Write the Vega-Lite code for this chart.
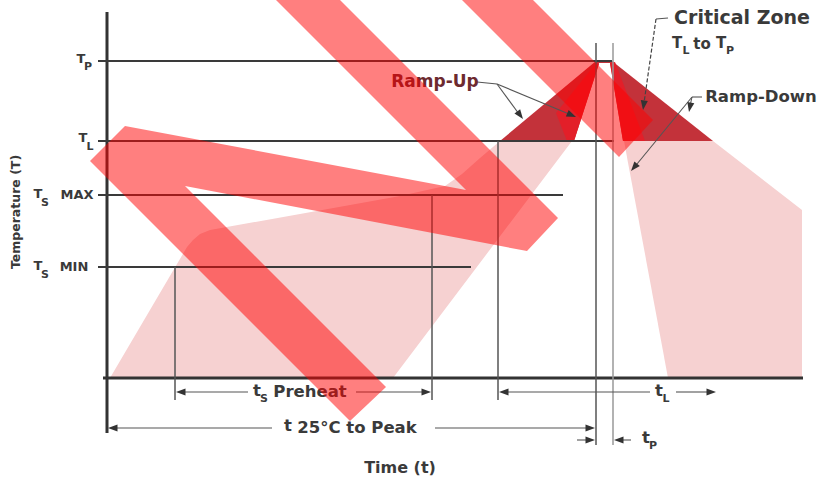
{
  "$schema": "https://vega.github.io/schema/vega-lite/v6.json",
  "width": 819,
  "height": 480,
  "autosize": {"type": "fit", "contains": "padding"},
  "padding": 0,
  "background": "white",
  "config": {"view": {"stroke": null}, "text": {"font": "DejaVu Sans", "fontWeight": "bold"}},
  "datasets": {
    "polys": [
      {"part": "pinkL", "i": 0, "t": 3, "T": 0},
      {"part": "pinkL", "i": 1, "t": 80, "T": 131},
      {"part": "pinkL", "i": 2, "t": 86, "T": 138},
      {"part": "pinkL", "i": 3, "t": 93, "T": 144},
      {"part": "pinkL", "i": 4, "t": 103, "T": 148},
      {"part": "pinkL", "i": 5, "t": 193, "T": 164},
      {"part": "pinkL", "i": 6, "t": 293, "T": 182},
      {"part": "pinkL", "i": 7, "t": 338, "T": 192},
      {"part": "pinkL", "i": 8, "t": 355, "T": 204},
      {"part": "pinkL", "i": 9, "t": 373, "T": 220},
      {"part": "pinkL", "i": 10, "t": 393, "T": 237},
      {"part": "pinkL", "i": 11, "t": 465, "T": 237},
      {"part": "pinkL", "i": 12, "t": 286, "T": 0},
      {"part": "pinkR", "i": 0, "t": 517, "T": 237},
      {"part": "pinkR", "i": 1, "t": 606, "T": 237},
      {"part": "pinkR", "i": 2, "t": 695, "T": 168},
      {"part": "pinkR", "i": 3, "t": 695, "T": 0},
      {"part": "pinkR", "i": 4, "t": 561, "T": 0},
      {"part": "trap", "i": 0, "t": 393, "T": 237},
      {"part": "trap", "i": 1, "t": 489, "T": 317},
      {"part": "trap", "i": 2, "t": 505, "T": 317},
      {"part": "trap", "i": 3, "t": 606, "T": 237},
      {"part": "gap", "i": 0, "t": 492, "T": 315},
      {"part": "gap", "i": 1, "t": 503, "T": 315},
      {"part": "gap", "i": 2, "t": 516, "T": 237},
      {"part": "gap", "i": 3, "t": 467, "T": 237},
      {"part": "wedgeL", "i": 0, "t": 490, "T": 316},
      {"part": "wedgeL", "i": 1, "t": 449, "T": 265},
      {"part": "wedgeL", "i": 2, "t": 460, "T": 237},
      {"part": "wedgeL", "i": 3, "t": 467, "T": 237},
      {"part": "wedgeL", "i": 4, "t": 492, "T": 314},
      {"part": "wedgeR", "i": 0, "t": 503, "T": 315},
      {"part": "wedgeR", "i": 1, "t": 508, "T": 316},
      {"part": "wedgeR", "i": 2, "t": 538, "T": 237},
      {"part": "wedgeR", "i": 3, "t": 516, "T": 237},
      {"part": "N1", "i": 0, "t": -17, "T": 217},
      {"part": "N1", "i": 1, "t": 18, "T": 252},
      {"part": "N1", "i": 2, "t": 359, "T": 188},
      {"part": "N1", "i": 3, "t": 169, "T": 378},
      {"part": "N1", "i": 4, "t": 233, "T": 378},
      {"part": "N1", "i": 5, "t": 451, "T": 160},
      {"part": "N1", "i": 6, "t": 420, "T": 127},
      {"part": "N1", "i": 7, "t": 78, "T": 192},
      {"part": "N1", "i": 8, "t": 279, "T": -9},
      {"part": "N1", "i": 9, "t": 243, "T": -43},
      {"part": "N2", "i": 0, "t": 355, "T": 378},
      {"part": "N2", "i": 1, "t": 426, "T": 378},
      {"part": "N2", "i": 2, "t": 546, "T": 258},
      {"part": "N2", "i": 3, "t": 512, "T": 221}
    ],
    "segs": [
      {"kind": "axis", "t": 0, "T": 366, "t2": 0, "T2": -55},
      {"kind": "axis", "t": -4, "T": 0, "t2": 696, "T2": 0},
      {"kind": "h", "t": -9, "T": 317, "t2": 505, "T2": 317},
      {"kind": "h", "t": -9, "T": 237, "t2": 507, "T2": 237},
      {"kind": "h", "t": -9, "T": 183, "t2": 456, "T2": 183},
      {"kind": "h", "t": -9, "T": 111, "t2": 364, "T2": 111},
      {"kind": "v", "t": 68, "T": 111, "t2": 68, "T2": -22},
      {"kind": "v", "t": 325, "T": 183, "t2": 325, "T2": -22},
      {"kind": "v", "t": 391, "T": 237, "t2": 391, "T2": -22},
      {"kind": "v", "t": 489, "T": 335, "t2": 489, "T2": -67},
      {"kind": "vl", "t": 506, "T": 335, "t2": 506, "T2": -67},
      {"kind": "arrow", "t": 77, "T": -14, "t2": 141, "T2": -14},
      {"kind": "arrow", "t": 249, "T": -14, "t2": 318, "T2": -14},
      {"kind": "arrow", "t": 400, "T": -14, "t2": 543, "T2": -14},
      {"kind": "arrow", "t": 569, "T": -14, "t2": 601, "T2": -14},
      {"kind": "arrow", "t": 9, "T": -50, "t2": 165, "T2": -50},
      {"kind": "arrow", "t": 328, "T": -50, "t2": 480, "T2": -50},
      {"kind": "arrow", "t": 470, "T": -62, "t2": 480, "T2": -62},
      {"kind": "arrow", "t": 515, "T": -62, "t2": 524, "T2": -62},
      {"kind": "lead", "t": 370, "T": 296, "t2": 390, "T2": 294},
      {"kind": "lead", "t": 390, "T": 294, "t2": 412, "T2": 264},
      {"kind": "lead", "t": 390, "T": 294, "t2": 462, "T2": 264},
      {"kind": "lead", "t": 561, "T": 360, "t2": 549, "T2": 359},
      {"kind": "dash", "t": 549, "T": 359, "t2": 537, "T2": 275},
      {"kind": "lead", "t": 595, "T": 281, "t2": 585, "T2": 281},
      {"kind": "lead", "t": 585, "T": 281, "t2": 530, "T2": 214},
      {"kind": "lead", "t": 585, "T": 281, "t2": 583, "T2": 272}
    ],
    "heads": [
      {"t": 69, "T": -14, "dir": 180},
      {"t": 324, "T": -14, "dir": 0},
      {"t": 392, "T": -14, "dir": 180},
      {"t": 609, "T": -14, "dir": 0},
      {"t": 1, "T": -50, "dir": 180},
      {"t": 488, "T": -50, "dir": 0},
      {"t": 488, "T": -62, "dir": 0},
      {"t": 507, "T": -62, "dir": 180},
      {"t": 416, "T": 259, "dir": 53},
      {"t": 469, "T": 261, "dir": 23},
      {"t": 536, "T": 268, "dir": 98},
      {"t": 524, "T": 207, "dir": 130},
      {"t": 582, "T": 266, "dir": 101}
    ],
    "texts": [
      {"role": "head", "t": 635, "T": 360, "txt": "Critical Zone"},
      {"role": "rd", "t": 654, "T": 281, "txt": "Ramp-Down"},
      {"role": "ramp", "t": 328, "T": 296, "txt": "Ramp-Up"},
      {"role": "mid", "t": 203, "T": -14, "txt": "Preheat"},
      {"role": "mid", "t": 250, "T": -50, "txt": "25°C to Peak"},
      {"role": "mid", "t": 150, "T": -13, "txt": "t"},
      {"role": "mid", "t": 181, "T": -48, "txt": "t"},
      {"role": "mid", "t": 552, "T": -13, "txt": "t"},
      {"role": "mid", "t": 539, "T": -60, "txt": "t"},
      {"role": "tt", "t": 570, "T": 335, "txt": "T"},
      {"role": "tt", "t": 595, "T": 334, "txt": "to"},
      {"role": "tt", "t": 614, "T": 335, "txt": "T"},
      {"role": "time", "t": 293, "T": -90, "txt": "Time (t)"},
      {"role": "tick", "t": -26, "T": 319, "txt": "T"},
      {"role": "tick", "t": -24, "T": 240, "txt": "T"},
      {"role": "tick", "t": -69, "T": 184, "txt": "T"},
      {"role": "tick", "t": -30, "T": 183, "txt": "MAX"},
      {"role": "tick", "t": -69, "T": 112, "txt": "T"},
      {"role": "tick", "t": -33, "T": 111, "txt": "MIN"},
      {"role": "sub", "t": -19, "T": 311, "txt": "P"},
      {"role": "sub", "t": -17, "T": 231, "txt": "L"},
      {"role": "sub", "t": -62, "T": 175, "txt": "S"},
      {"role": "sub", "t": -62, "T": 103, "txt": "S"},
      {"role": "sub", "t": 579, "T": 327, "txt": "L"},
      {"role": "sub", "t": 623, "T": 327, "txt": "P"},
      {"role": "sub", "t": 157, "T": -21, "txt": "S"},
      {"role": "sub", "t": 559, "T": -21, "txt": "L"},
      {"role": "sub", "t": 546, "T": -68, "txt": "P"},
      {"role": "ytitle", "t": -91, "T": 166, "txt": "Temperature (T)"}
    ]
  },
  "encoding": {
    "x": {"field": "t", "type": "quantitative", "scale": {"domain": [-107, 712], "nice": false, "zero": false}, "axis": null},
    "y": {"field": "T", "type": "quantitative", "scale": {"domain": [-102, 378], "nice": false, "zero": false}, "axis": null}
  },
  "layer": [
    {
      "data": {"name": "polys"},
      "transform": [{"filter": "datum.part == 'pinkL' || datum.part == 'pinkR'"}],
      "mark": {"type": "line", "fill": "#f6d1d1", "strokeWidth": 0, "strokeOpacity": 0},
      "encoding": {"order": {"field": "i", "type": "quantitative"}, "detail": {"field": "part", "type": "nominal"}}
    },
    {
      "data": {"name": "polys"},
      "transform": [{"filter": "datum.part == 'trap'"}],
      "mark": {"type": "line", "fill": "#c3323a", "strokeWidth": 0, "strokeOpacity": 0},
      "encoding": {"order": {"field": "i", "type": "quantitative"}, "detail": {"field": "part", "type": "nominal"}}
    },
    {
      "data": {"name": "polys"},
      "transform": [{"filter": "datum.part == 'gap'"}],
      "mark": {"type": "line", "fill": "#ffffff", "strokeWidth": 0, "strokeOpacity": 0},
      "encoding": {"order": {"field": "i", "type": "quantitative"}, "detail": {"field": "part", "type": "nominal"}}
    },
    {
      "data": {"name": "polys"},
      "transform": [{"filter": "datum.part == 'wedgeL' || datum.part == 'wedgeR'"}],
      "mark": {"type": "line", "fill": "#e31f29", "strokeWidth": 0, "strokeOpacity": 0},
      "encoding": {"order": {"field": "i", "type": "quantitative"}, "detail": {"field": "part", "type": "nominal"}}
    },
    {
      "data": {"name": "segs"},
      "transform": [{"filter": "datum.kind == 'axis'"}],
      "mark": {"type": "rule", "color": "#333333", "strokeWidth": 3},
      "encoding": {"x2": {"field": "t2"}, "y2": {"field": "T2"}}
    },
    {
      "data": {"name": "segs"},
      "transform": [{"filter": "datum.kind == 'h'"}],
      "mark": {"type": "rule", "color": "#3a3a3a", "strokeWidth": 2.2},
      "encoding": {"x2": {"field": "t2"}, "y2": {"field": "T2"}}
    },
    {
      "data": {"name": "segs"},
      "transform": [{"filter": "datum.kind == 'v'"}],
      "mark": {"type": "rule", "color": "#555555", "strokeWidth": 1.5},
      "encoding": {"x2": {"field": "t2"}, "y2": {"field": "T2"}}
    },
    {
      "data": {"name": "segs"},
      "transform": [{"filter": "datum.kind == 'vl'"}],
      "mark": {"type": "rule", "color": "#999999", "strokeWidth": 1.5},
      "encoding": {"x2": {"field": "t2"}, "y2": {"field": "T2"}}
    },
    {
      "data": {"name": "segs"},
      "transform": [{"filter": "datum.kind == 'arrow' || datum.kind == 'lead'"}],
      "mark": {"type": "rule", "color": "#555555", "strokeWidth": 1.1},
      "encoding": {"x2": {"field": "t2"}, "y2": {"field": "T2"}}
    },
    {
      "data": {"name": "segs"},
      "transform": [{"filter": "datum.kind == 'dash'"}],
      "mark": {"type": "rule", "color": "#444444", "strokeWidth": 1.2, "strokeDash": [4, 2]},
      "encoding": {"x2": {"field": "t2"}, "y2": {"field": "T2"}}
    },
    {
      "data": {"name": "heads"},
      "mark": {"type": "point", "shape": "M0,0L-2,-0.75L-2,0.75Z", "filled": true, "color": "#333333", "opacity": 1, "size": 90, "strokeWidth": 0},
      "encoding": {"angle": {"field": "dir", "type": "quantitative", "scale": null}}
    },
    {
      "data": {"name": "texts"},
      "transform": [{"filter": "datum.role == 'head'"}],
      "mark": {"type": "text", "fontSize": 19, "color": "#3a3a3a", "align": "center", "baseline": "middle"},
      "encoding": {"text": {"field": "txt"}}
    },
    {
      "data": {"name": "texts"},
      "transform": [{"filter": "datum.role == 'rd'"}],
      "mark": {"type": "text", "fontSize": 16.5, "color": "#3a3a3a", "align": "center", "baseline": "middle"},
      "encoding": {"text": {"field": "txt"}}
    },
    {
      "data": {"name": "texts"},
      "transform": [{"filter": "datum.role == 'ramp'"}],
      "mark": {"type": "text", "fontSize": 17, "color": "#6d2a2f", "align": "center", "baseline": "middle"},
      "encoding": {"text": {"field": "txt"}}
    },
    {
      "data": {"name": "texts"},
      "transform": [{"filter": "datum.role == 'mid'"}],
      "mark": {"type": "text", "fontSize": 16.5, "color": "#3a3a3a", "align": "center", "baseline": "middle"},
      "encoding": {"text": {"field": "txt"}}
    },
    {
      "data": {"name": "texts"},
      "transform": [{"filter": "datum.role == 'tt'"}],
      "mark": {"type": "text", "fontSize": 15, "color": "#3a3a3a", "align": "center", "baseline": "middle"},
      "encoding": {"text": {"field": "txt"}}
    },
    {
      "data": {"name": "texts"},
      "transform": [{"filter": "datum.role == 'time'"}],
      "mark": {"type": "text", "fontSize": 16, "color": "#3a3a3a", "align": "center", "baseline": "middle"},
      "encoding": {"text": {"field": "txt"}}
    },
    {
      "data": {"name": "texts"},
      "transform": [{"filter": "datum.role == 'tick'"}],
      "mark": {"type": "text", "fontSize": 13, "color": "#3a3a3a", "align": "center", "baseline": "middle"},
      "encoding": {"text": {"field": "txt"}}
    },
    {
      "data": {"name": "texts"},
      "transform": [{"filter": "datum.role == 'sub'"}],
      "mark": {"type": "text", "fontSize": 11, "color": "#3a3a3a", "align": "center", "baseline": "middle"},
      "encoding": {"text": {"field": "txt"}}
    },
    {
      "data": {"name": "texts"},
      "transform": [{"filter": "datum.role == 'ytitle'"}],
      "mark": {"type": "text", "fontSize": 12.5, "color": "#3a3a3a", "align": "center", "baseline": "middle", "angle": 270},
      "encoding": {"text": {"field": "txt"}}
    },
    {
      "data": {"name": "polys"},
      "transform": [{"filter": "datum.part == 'N1' || datum.part == 'N2'"}],
      "mark": {"type": "line", "fill": "#ff0000", "fillOpacity": 0.5, "strokeWidth": 0, "strokeOpacity": 0},
      "encoding": {"order": {"field": "i", "type": "quantitative"}, "detail": {"field": "part", "type": "nominal"}}
    }
  ]
}
